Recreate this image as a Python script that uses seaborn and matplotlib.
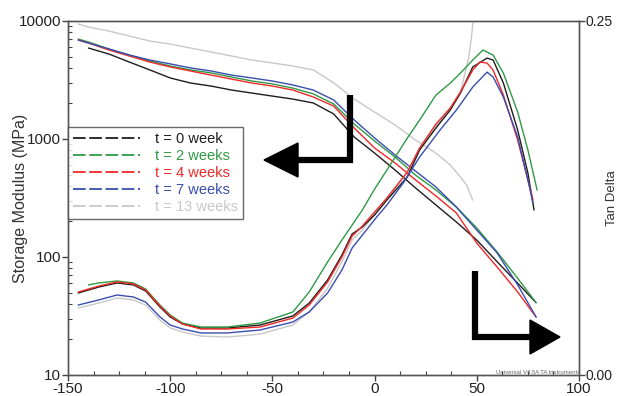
import matplotlib
matplotlib.use("Agg")
import matplotlib.pyplot as plt
import matplotlib.ticker as mticker
from matplotlib.lines import Line2D
from matplotlib.patches import Polygon
import seaborn as sns

# ---- storage modulus (MPa) vs temperature (C) ----
temp_mod = [-145, -140, -130, -120, -110, -100, -90, -80, -70, -60, -50, -40,
            -30, -20, -10, 0, 10, 20, 30, 40, 50, 60, 70, 79]
temp_mod_0 = temp_mod[1:]
temp_mod_13 = [-145, -140, -130, -120, -110, -100, -90, -80, -70, -60, -50, -40,
               -30, -20, -10, 0, 10, 20, 30, 37, 42, 45, 48]

mod_0wk = [5900, 5250, 4490, 3850, 3290, 2980, 2810, 2600, 2450, 2310, 2180, 2020,
           1630, 1040, 760, 546, 385, 276, 198, 139, 91, 60, 41]
mod_2wk = [7030, 6640, 5790, 5150, 4580, 4160, 3850, 3630, 3350, 3100, 2930, 2700,
           2410, 1980, 1340, 961, 703, 495, 370, 265, 176, 110, 66, 41]
mod_4wk = [6900, 6510, 5680, 5050, 4490, 4080, 3770, 3480, 3220, 2980, 2810, 2600,
           2270, 1900, 1240, 839, 627, 450, 329, 236, 131, 82, 50.5, 31]
mod_7wk = [6900, 6510, 5790, 5150, 4670, 4330, 4000, 3770, 3480, 3290, 3100, 2870,
           2600, 2140, 1450, 1020, 732, 535, 392, 265, 169, 108, 58, 31]
mod_13wk = [9440, 8890, 8220, 7460, 6770, 6380, 5900, 5460, 5050, 4670, 4410, 4160,
            3850, 2990, 2180, 1690, 1315, 980, 760, 603, 476, 408, 304]

# ---- tan delta vs temperature (C) ----
temp_td_0 = [-145, -135, -126, -118, -112, -105, -100, -94, -85, -72, -56, -40, -32,
             -23, -16, -11, -6, 0, 6, 16, 22, 30, 37, 42, 48, 55, 58, 63, 70, 75, 78]
td_0wk = [0.0579, 0.0621, 0.0650, 0.0636, 0.0593, 0.0480, 0.0410, 0.0360, 0.0332,
          0.0332, 0.0353, 0.0417, 0.0508, 0.0671, 0.0847, 0.0996, 0.1045, 0.1130,
          0.1236, 0.1398, 0.1589, 0.1744, 0.1871, 0.1991, 0.2175, 0.2238, 0.2224,
          0.2062, 0.1730, 0.1426, 0.1165]

temp_td_2 = [-140, -135, -126, -118, -112, -105, -100, -94, -85, -72, -56, -40, -32,
             -23, -16, -11, -6, 0, 6, 16, 22, 30, 37, 42, 48, 53, 58, 63, 70, 75, 79.5]
td_2wk = [0.0636, 0.0650, 0.0664, 0.0650, 0.0607, 0.0494, 0.0424, 0.0367, 0.0339,
          0.0339, 0.0367, 0.0445, 0.0586, 0.0798, 0.0953, 0.1059, 0.1165, 0.1313,
          0.1447, 0.1673, 0.1800, 0.1977, 0.2061, 0.2132, 0.2224, 0.2295, 0.2259,
          0.2132, 0.1857, 0.1589, 0.1306]

temp_td_4 = [-145, -135, -126, -118, -112, -105, -100, -94, -85, -72, -56, -40, -32,
             -23, -16, -11, -6, 0, 6, 16, 22, 30, 37, 42, 48, 51.5, 55, 58, 63, 70,
             75, 77.5]
td_4wk = [0.0586, 0.0628, 0.0657, 0.0643, 0.0600, 0.0487, 0.0417, 0.0360, 0.0325,
          0.0325, 0.0339, 0.0402, 0.0494, 0.0657, 0.0833, 0.0981, 0.1052, 0.1151,
          0.1250, 0.1433, 0.1603, 0.1772, 0.1885, 0.1998, 0.2153, 0.2210, 0.2203,
          0.2153, 0.1977, 0.1659, 0.1377, 0.1236]

temp_td_7 = [-145, -135, -126, -118, -112, -105, -100, -94, -85, -72, -56, -40, -32,
             -23, -16, -11, -6, 1, 6, 14, 22, 32, 40, 48, 55, 58, 63, 70, 75, 77.5]
td_7wk = [0.0494, 0.0530, 0.0565, 0.0551, 0.0515, 0.0410, 0.0353, 0.0325, 0.0297,
          0.0297, 0.0318, 0.0374, 0.0445, 0.0579, 0.0741, 0.0897, 0.0988, 0.1115,
          0.1200, 0.1356, 0.1539, 0.1730, 0.1871, 0.2033, 0.2139, 0.2104, 0.1963,
          0.1680, 0.1377, 0.1214]

temp_td_13 = [-145, -135, -126, -118, -112, -105, -100, -94, -85, -72, -56, -40, -32,
              -23, -16, -11, -6, 0, 6, 16, 22, 30, 37, 42, 44, 46, 47.5, 48.5, 49.5]
td_13wk = [0.0473, 0.0508, 0.0544, 0.0530, 0.0494, 0.0388, 0.0332, 0.0304, 0.0275,
           0.0268, 0.0289, 0.0353, 0.0445, 0.0614, 0.0798, 0.0953, 0.1024, 0.1137,
           0.1236, 0.1433, 0.1589, 0.1758, 0.1885, 0.1998, 0.2118, 0.2238, 0.2400,
           0.2550, 0.2700]

labels = ["t = 0 week", "t = 2 weeks", "t = 4 weeks", "t = 7 weeks", "t = 13 weeks"]
colors = ["#1e1e1e", "#2f9a45", "#f02828", "#3a4db0", "#c8c8c8"]

sns.set_style("ticks")
plt.rcParams["font.family"] = ["Liberation Sans", "DejaVu Sans"]
plt.rcParams["axes.unicode_minus"] = False

fig = plt.figure(figsize=(6.3, 3.96), dpi=100)
ax = fig.add_axes([68 / 630, 21 / 396, 511 / 630, 354 / 396])
ax2 = ax.twinx()

mod_series = [(temp_mod_0, mod_0wk), (temp_mod, mod_2wk), (temp_mod, mod_4wk),
              (temp_mod, mod_7wk), (temp_mod_13, mod_13wk)]
td_series = [(temp_td_0, td_0wk), (temp_td_2, td_2wk), (temp_td_4, td_4wk),
             (temp_td_7, td_7wk), (temp_td_13, td_13wk)]

# draw gray first so the others sit on top
for i in [4, 0, 1, 2, 3]:
    t, m = mod_series[i]
    sns.lineplot(x=t, y=m, ax=ax, color=colors[i], lw=1.0, estimator=None,
                 sort=False, legend=False)
    t, d = td_series[i]
    sns.lineplot(x=t, y=d, ax=ax2, color=colors[i], lw=1.0, estimator=None,
                 sort=False, legend=False)

ax.set_yscale("log")
ax.set_ylim(10, 10000)
ax.set_xlim(-150, 100)
ax.set_xticks([-150, -100, -50, 0, 50, 100])
ax.xaxis.set_minor_locator(mticker.MultipleLocator(12.5))
ax.yaxis.set_major_locator(mticker.LogLocator(base=10))
ax.yaxis.set_major_formatter(mticker.FuncFormatter(lambda v, p: "%d" % v))
ax.yaxis.set_minor_locator(mticker.LogLocator(base=10, subs=range(2, 10)))
ax.yaxis.set_minor_formatter(mticker.NullFormatter())
ax.tick_params(which="major", direction="out", length=4, width=1, labelsize=11, pad=1)
ax.tick_params(which="minor", direction="in", length=3, width=0.8)
ax.set_ylabel("Storage Modulus (MPa)", fontsize=11.5, color="#333333")
ax.yaxis.set_label_coords(-0.078, 0.5)
ax.set_xlabel("")

ax2.set_ylim(0, 0.25)
ax2.set_yticks([0, 0.25])
ax2.yaxis.set_major_formatter(mticker.FormatStrFormatter("%.2f"))
ax2.tick_params(which="major", direction="out", length=4, width=1, labelsize=10, pad=1)
ax2.set_ylabel("Tan Delta", fontsize=9.5, color="#333333")
ax2.yaxis.set_label_coords(1.052, 0.5)

for a in (ax, ax2):
    for s in a.spines.values():
        s.set_color("#555555")
        s.set_linewidth(1.0)
    a.tick_params(colors="#444444", labelcolor="#222222", which="both")

# legend with dashed handles and colored text
handles = [Line2D([0], [0], color=c, lw=1.3, dashes=(7, 2)) for c in colors]
leg = ax2.legend(handles, labels, loc="upper left", bbox_to_anchor=(0.0, 0.70),
                 fontsize=10.5, frameon=True, fancybox=False, handlelength=4.6,
                 labelspacing=0.2, borderpad=0.35, handletextpad=1.0,
                 borderaxespad=0)
leg.get_frame().set_edgecolor("#444444")
leg.get_frame().set_linewidth(1.0)
for txt, c in zip(leg.get_texts(), colors):
    txt.set_color(c)
leg.set_zorder(10)


def px(x, y):
    return ((x - 68) / 511, (375 - y) / 354)


# arrow pointing to the left axis
pts = [px(350, 95), px(350, 160), px(296, 160)]
ax2.plot([p[0] for p in pts], [p[1] for p in pts], color="black", lw=4.5,
         transform=ax2.transAxes, solid_joinstyle="miter", solid_capstyle="butt",
         zorder=12, clip_on=False)
ax2.add_patch(Polygon([px(298, 143), px(298, 177), px(264, 160)], closed=True,
                      color="black", transform=ax2.transAxes, zorder=12,
                      clip_on=False))

# arrow pointing to the right axis
pts = [px(475, 271), px(475, 337), px(532, 337)]
ax2.plot([p[0] for p in pts], [p[1] for p in pts], color="black", lw=4.5,
         transform=ax2.transAxes, solid_joinstyle="miter", solid_capstyle="butt",
         zorder=12, clip_on=False)
ax2.add_patch(Polygon([px(530, 320), px(530, 354), px(560, 337)], closed=True,
                      color="black", transform=ax2.transAxes, zorder=12,
                      clip_on=False))

fig.text(496 / 630, 1 - 372 / 396, "Universal V4.5A TA Instruments", fontsize=4.3,
         color="#666666", va="center")

fig.savefig("out.png", dpi=100)
